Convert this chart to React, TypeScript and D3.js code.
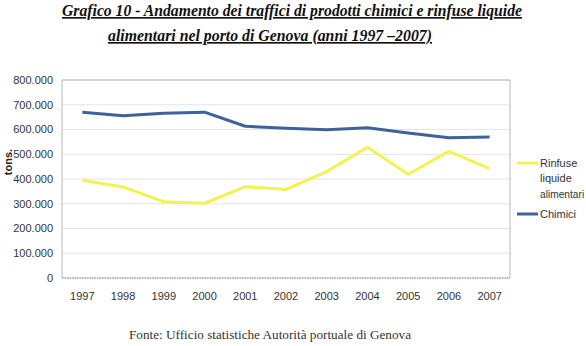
import React from "react";
import * as d3 from "d3";

const years = ["1997","1998","1999","2000","2001","2002","2003","2004","2005","2006","2007"];
const rinfuse = [395000, 368000, 308000, 302000, 369000, 358000, 430000, 528000, 419000, 512000, 442000];
const chimici = [670000, 656000, 666000, 670000, 613000, 605000, 599000, 607000, 586000, 567000, 570000];
const yTicks = [0, 100000, 200000, 300000, 400000, 500000, 600000, 700000, 800000];
const titleLines = [
  "Grafico 10 - Andamento dei traffici di prodotti chimici e rinfuse liquide",
  "alimentari nel porto di Genova (anni 1997 \u20132007)",
];
const legendRinfuse = ["Rinfuse", "liquide", "alimentari"];
const sourceText = "Fonte: Ufficio statistiche Autorit\u00e0 portuale di Genova";

export default function App() {
  const W = 586, H = 346;
  const left = 62, right = 510, top = 80, bottom = 278;
  const x = d3.scaleBand<string>().domain(years).range([left, right]);
  const y = d3.scaleLinear().domain([0, 800000]).range([bottom, top]);
  const fmt = (v: number) => (v === 0 ? "0" : d3.format(",")(v).replace(/,/g, "."));
  const line = d3.line<number>()
    .x((_, i) => (x(years[i]) as number) + x.bandwidth() / 2)
    .y((d) => y(d));
  const sans = "'Liberation Sans', Arial, sans-serif";
  const serif = "'Liberation Serif', 'Times New Roman', serif";
  const yellow = "#f2f250";
  const blue = "#40629a";
  return (
    <svg width={W} height={H} style={{ position: "absolute", left: 0, top: 0, background: "#fff" }}>
      <rect x={0} y={0} width={W} height={H} fill="#fff" />
      {/* title */}
      <text x={62} y={16} fontFamily={serif} fontStyle="italic" fontWeight="bold" fontSize={16.5}
        textDecoration="underline" fill="#111" textLength={460} lengthAdjust="spacingAndGlyphs">{titleLines[0]}</text>
      <text x={108} y={41} fontFamily={serif} fontStyle="italic" fontWeight="bold" fontSize={16.5}
        textDecoration="underline" fill="#111" textLength={324} lengthAdjust="spacingAndGlyphs">{titleLines[1]}</text>
      {/* gridlines */}
      {yTicks.map((t) => (
        <line key={"g" + t} x1={left} x2={right} y1={y(t)} y2={y(t)} stroke="#e4e4e4" strokeWidth={1} />
      ))}
      {/* plot border */}
      <path d={`M${left},${bottom} V${top} H${right} V${bottom}`} fill="none" stroke="#b4b8c0" strokeWidth={1} />
      <line x1={left} x2={right} y1={bottom} y2={bottom} stroke="#6f80ad" strokeWidth={1} strokeDasharray="1.5,1" />
      {/* y labels */}
      {yTicks.map((t) => (
        <text key={"y" + t} x={53} y={y(t)} dy="0.35em" textAnchor="end" fontFamily={sans} fontSize={11} fill="#333">{fmt(t)}</text>
      ))}
      {/* x labels */}
      {years.map((yr) => (
        <text key={yr} x={(x(yr) as number) + x.bandwidth() / 2} y={300} textAnchor="middle" fontFamily={sans} fontSize={11} fill="#333">{yr}</text>
      ))}
      {/* axis title */}
      <text transform={`translate(12,162) rotate(-90)`} textAnchor="middle" fontFamily={sans} fontWeight="bold" fontSize={11} fill="#222">tons.</text>
      {/* series */}
      <path d={line(rinfuse) || ""} fill="none" stroke={yellow} strokeWidth={3} strokeLinejoin="round" />
      <path d={line(chimici) || ""} fill="none" stroke={blue} strokeWidth={3} strokeLinejoin="round" />
      {/* legend */}
      <line x1={517} x2={538} y1={163} y2={163} stroke={yellow} strokeWidth={3} />
      {legendRinfuse.map((s, i) => (
        <text key={s} x={540} y={163 + i * 15.5} dy="0.35em" fontFamily={sans} fontSize={s === "alimentari" ? 10.2 : 11} fill="#333">{s}</text>
      ))}
      <line x1={517} x2={538} y1={214} y2={214} stroke={blue} strokeWidth={3} />
      <text x={540} y={214} dy="0.35em" fontFamily={sans} fontSize={11} fill="#333">Chimici</text>
      {/* source */}
      <text x={270} y={339} textAnchor="middle" fontFamily={serif} fontSize={13} fill="#333"
        textLength={282} lengthAdjust="spacingAndGlyphs">{sourceText}</text>
    </svg>
  );
}
